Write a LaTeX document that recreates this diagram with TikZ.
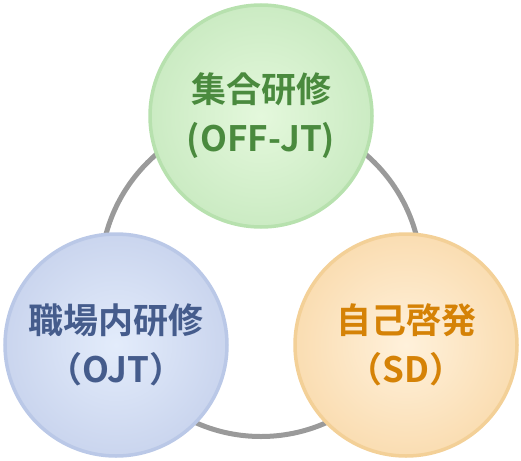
\documentclass[tikz,border=0pt]{standalone}
\usepackage{fontspec}
\setmainfont{Noto Sans CJK JP}[BoldFont={Noto Sans CJK JP Bold}]
\definecolor{ggreen}{HTML}{4A8A3E}
\definecolor{gblue}{HTML}{455C8C}
\definecolor{gorange}{HTML}{D58206}
\definecolor{ringgray}{HTML}{9A9A9A}
\definecolor{gin}{HTML}{E4F8DC}\definecolor{gout}{HTML}{CBEBC3}\definecolor{gbd}{HTML}{B7E1AE}
\definecolor{bin}{HTML}{E3ECFB}\definecolor{bout}{HTML}{CAD5EE}\definecolor{bbd}{HTML}{BAC8E7}
\definecolor{oin}{HTML}{FFF1DB}\definecolor{oout}{HTML}{FADDB2}\definecolor{obd}{HTML}{F3D097}
\tikzset{
  x=1pt,y=-1pt,
  bubble/.style={circle,minimum size=222pt,inner sep=0pt,line width=3.5pt,align=center,
    font=\fontsize{35}{49}\selectfont\bfseries},
  greenb/.style={bubble,draw=gbd,inner color=gin,outer color=gout,text=ggreen},
  blueb/.style={bubble,draw=bbd,inner color=bin,outer color=bout,text=gblue},
  orangeb/.style={bubble,draw=obd,inner color=oin,outer color=oout,text=gorange}
}
\begin{document}
\begin{tikzpicture}
\useasboundingbox (0,0) rectangle (521,460);
\node[circle,draw=ringgray,line width=5pt,minimum size=321pt,inner sep=0pt] (ring) at (261,276) {};
\node[greenb] (top) at (261,116) {集合研修\\(OFF-JT)};
\node[blueb] (left) at (116,345) {職場内研修\\（OJT）};
\node[orangeb] (right) at (406,345) {自己啓発\\（SD）};
\end{tikzpicture}
\end{document}
